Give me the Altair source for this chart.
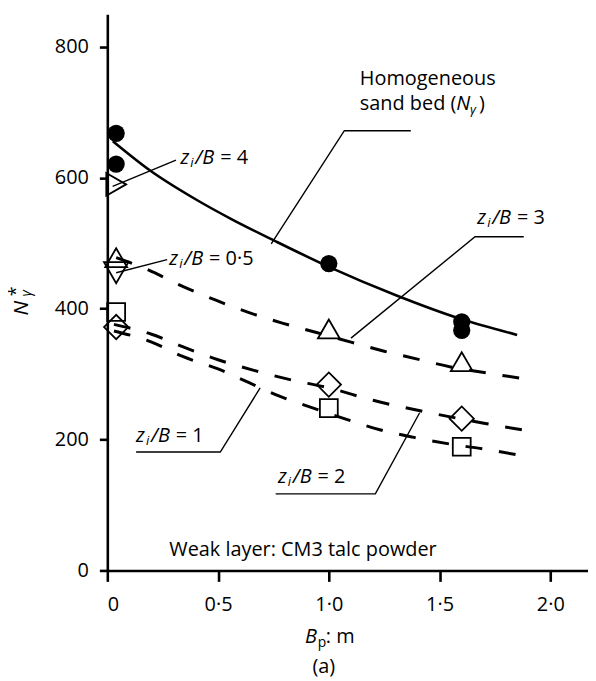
import altair as alt
import pandas as pd

FONT = "Open Sans"
FS = 20

# ---------------- data ----------------
# measured points
homog_x = [0.04, 0.04, 1.0, 1.6, 1.6]
homog_y = [668, 621, 469, 380, 367]
zb4_x = [0.04]
zb4_y = [590]
zb3_x = [0.04, 1.0, 1.6]
zb3_y = [478, 369, 319]
zb05_x = [0.04]
zb05_y = [455]
zb2_x = [0.04, 1.0, 1.6]
zb2_y = [372, 284, 232]
zb1_x = [0.04, 1.0, 1.6]
zb1_y = [395, 248, 189]

# trend curves
homog_curve_x = [0.025, 0.19, 0.41, 0.56, 0.76, 1.0, 1.3, 1.59, 1.85]
homog_curve_y = [656, 612, 565, 537, 503, 464, 421, 385, 360]
top_dash_x = [0.04, 0.18, 0.34, 0.49, 0.64, 0.79, 0.94, 1.10, 1.25, 1.40, 1.55, 1.71, 1.88]
top_dash_y = [478, 460, 434, 413, 394, 378, 364, 349, 335, 323, 311, 302, 293]
mid_dash_x = [0.03, 0.2, 0.34, 0.5, 0.67, 0.82, 1.0, 1.2, 1.44, 1.7, 1.94]
mid_dash_y = [376, 361, 342, 322, 305, 292, 279, 260, 242, 225, 211]
low_dash_x = [0.03, 0.2, 0.34, 0.5, 0.64, 0.78, 0.93, 1.08, 1.23, 1.39, 1.55, 1.71, 1.86]
low_dash_y = [366, 349, 327, 308, 287, 266, 248, 231, 215, 203, 193, 185, 176]

x_ticks = [0, 0.5, 1.0, 1.5, 2.0]
y_ticks = [0, 200, 400, 600, 800]

# leader lines (annotation polylines, data units)
leaders = {
    "homog": ([1.37, 1.07, 0.74], [672, 672, 499]),
    "zb4": ([0.31, 0.024], [627, 587]),
    "zb3": ([1.88, 1.66, 1.10], [510, 510, 355]),
    "zb05": ([0.27, 0.04], [475, 455]),
    "zb1": ([0.13, 0.51, 0.69], [181, 181, 279]),
    "zb2": ([0.76, 1.21, 1.41], [117, 117, 241]),
}

# ---------------- chart ----------------
XD = [0, 2.17]
YD = [0, 850]
W, H = 484, 560

xs = alt.Scale(domain=XD, nice=False, zero=False)
ys = alt.Scale(domain=YD, nice=False)

def pts(xv, yv):
    return pd.DataFrame({"x": xv, "y": yv})

def enc(ch, with_axis=False):
    if with_axis:
        return ch.encode(
            x=alt.X("x:Q", scale=xs, axis=alt.Axis(
                values=x_ticks, title=None, grid=False, tickSize=11, labelPadding=13,
                labelExpr="datum.value == 0 ? '0' : replace(format(datum.value, '.1f'), '.', '·')")),
            y=alt.Y("y:Q", scale=ys, axis=alt.Axis(values=y_ticks, title=None, grid=False,
                                                   tickSize=8, labelPadding=11)),
        )
    return ch.encode(x=alt.X("x:Q", scale=xs), y=alt.Y("y:Q", scale=ys))

layers = []

# curves
layers.append(enc(alt.Chart(pts(homog_curve_x, homog_curve_y)).mark_line(
    color="black", strokeWidth=2.6, interpolate="monotone"), with_axis=True))
for cx, cy in [(top_dash_x, top_dash_y), (mid_dash_x, mid_dash_y), (low_dash_x, low_dash_y)]:
    layers.append(enc(alt.Chart(pts(cx, cy)).mark_line(
        color="black", strokeWidth=3, strokeDash=[17, 17], interpolate="monotone")))

# leader lines
rows = []
for k, (lx, ly) in leaders.items():
    for i, (a, b) in enumerate(zip(lx, ly)):
        rows.append({"id": k, "o": i, "x": a, "y": b})
layers.append(alt.Chart(pd.DataFrame(rows)).mark_line(color="black", strokeWidth=1.4).encode(
    x=alt.X("x:Q", scale=xs), y=alt.Y("y:Q", scale=ys), detail="id:N", order="o:Q"))

# markers
layers.append(enc(alt.Chart(pts(homog_x, homog_y)).mark_circle(size=300, color="black", opacity=1)))
for xv, yv, shp, sz in [
    (zb4_x, zb4_y, "triangle-right", 529),
    (zb3_x, zb3_y, "triangle-up", 484),
    (zb05_x, zb05_y, "triangle-down", 600),
    (zb2_x, zb2_y, "diamond", 600),
    (zb1_x, zb1_y, "square", 324),
]:
    layers.append(enc(alt.Chart(pts(xv, yv)).mark_point(
        shape=shp, size=sz, filled=False, color="black", strokeWidth=1.8, opacity=1)))

# text helpers
one = pd.DataFrame({"a": [0]})

def seg(text, x, y, dx=0, dy=0, size=FS, style="normal"):
    return alt.Chart(one).mark_text(
        text=text, align="left", baseline="middle", dx=dx, dy=dy, fontSize=size,
        fontStyle=style, font=FONT, color="black").encode(
        x=alt.datum(x, scale=xs), y=alt.datum(y, scale=ys))

def zlabel(val, x, y):
    return [
        seg("z", x, y, 0, 0, FS, "italic"),
        seg("i", x, y, 10, 5, 13, "italic"),
        seg("/B", x, y, 15, 0, FS, "italic"),
        seg("= " + val, x, y, 40, 0, FS),
    ]

layers += [seg("Homogeneous", 1.14, 751)]
layers += [seg("sand bed (", 1.14, 713), seg("N", 1.14, 713, 97, 0, FS, "italic"),
           seg("γ", 1.14, 713, 111, 6, 13, "italic"), seg(")", 1.14, 713, 120, 0)]
layers += zlabel("4", 0.33, 630)
layers += zlabel("3", 1.67, 539)
layers += zlabel("0·5", 0.28, 476)
layers += zlabel("1", 0.13, 205)
layers += zlabel("2", 0.77, 143)
layers += [seg("Weak layer: CM3 talc powder", 0.28, 31)]

def pix(text, px, py, size=FS, style="normal", angle=0, align="center"):
    kw = dict(text=text, align=align, baseline="middle", fontSize=size, fontStyle=style,
              font=FONT, color="black")
    if angle:
        kw["angle"] = angle
    return alt.Chart(one).mark_text(**kw).encode(x=alt.value(px), y=alt.value(py))

# axis titles
layers += [
    pix("N", -86, 296, 21, "italic", 270),
    pix("*", -91, 279, 18, "normal", 270),
    pix("γ", -81, 281, 14, "italic", 270),
    pix("B", 199, 627, FS, "italic", 0, "left"),
    pix("p", 212, 633, 14, "normal", 0, "left"),
    pix(": m", 220, 627, FS, "normal", 0, "left"),
    pix("(a)", 218, 657, FS),
]

chart = alt.layer(*layers).properties(
    width=W, height=H,
    autosize=alt.AutoSizeParams(type="none"),
    padding={"left": 100, "top": 4, "right": 0, "bottom": 108},
).configure_view(stroke=None).configure_axis(
    domainColor="black", domainWidth=2.6, tickColor="black", tickWidth=2.6,
    labelFont=FONT, labelFontSize=FS, labelColor="black",
)

chart.save("out.html", embed_options={"renderer": "svg", "actions": False})
